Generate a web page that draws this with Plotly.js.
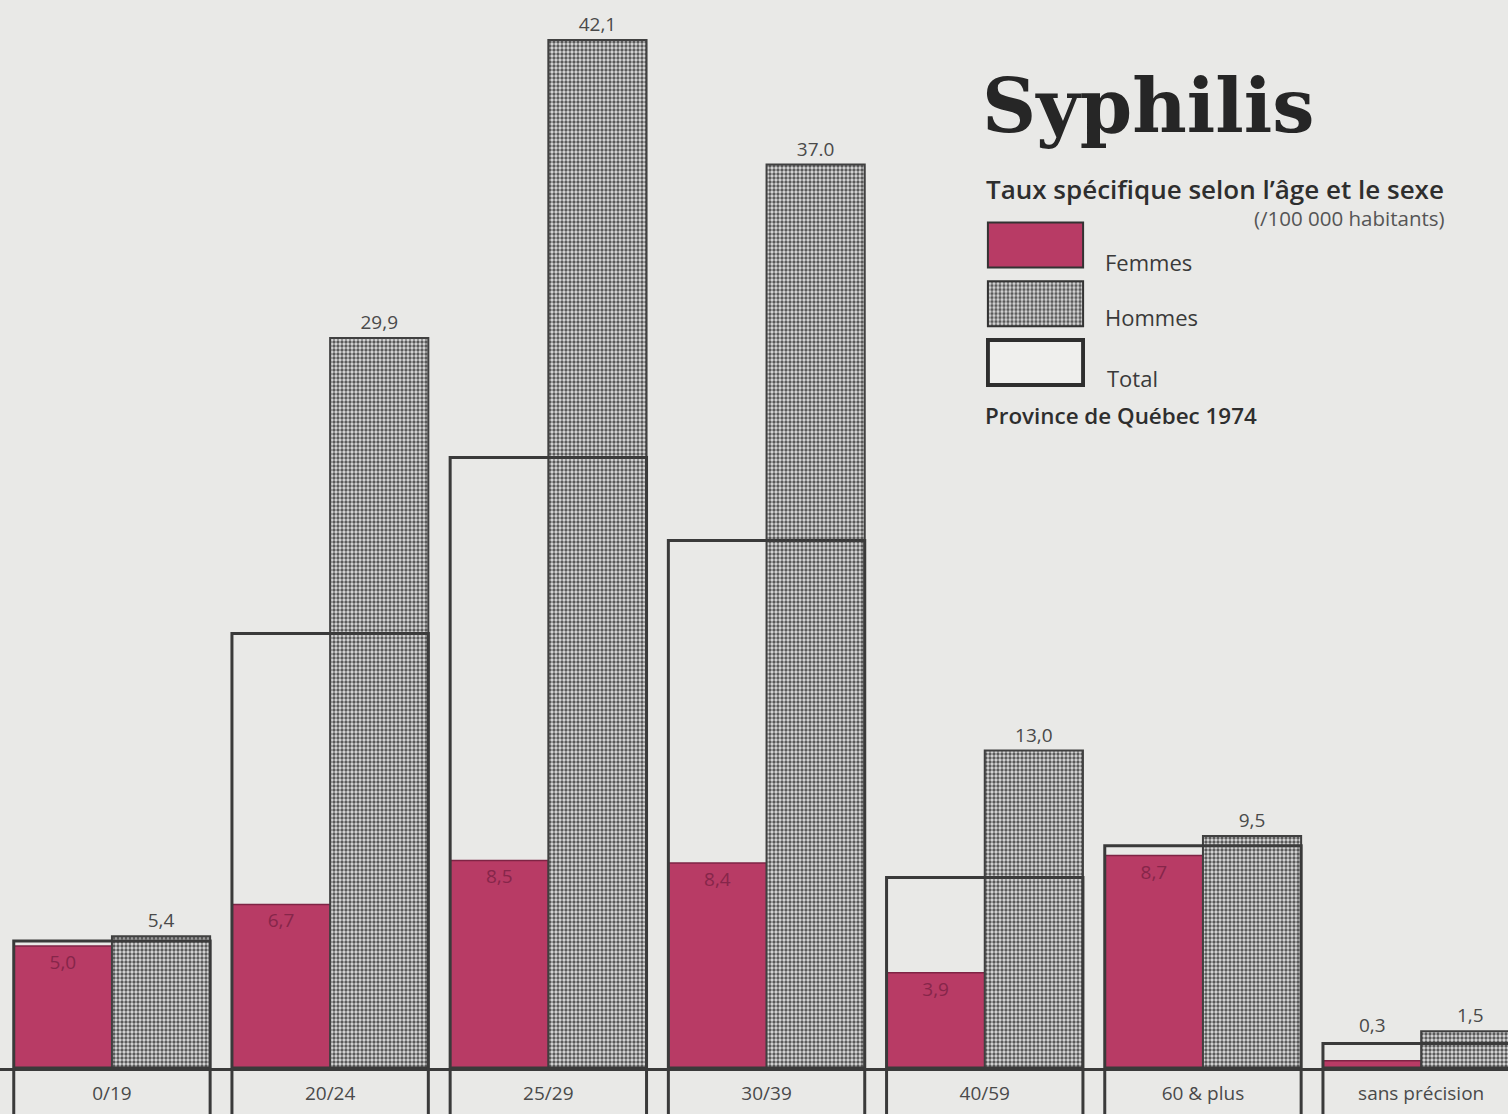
<!DOCTYPE html>
<html>
<head>
<meta charset="utf-8">
<script src="https://cdn.plot.ly/plotly-3.0.1.min.js"></script>
<style>
  html, body { margin: 0; padding: 0; background: #e9e9e7; }
  #chart { width: 1508px; height: 1114px; }
</style>
</head>
<body>
<div id="chart"></div>
<script>
// ---- Data ----
const categories = ['0/19', '20/24', '25/29', '30/39', '40/59', '60 & plus', 'sans précision'];
const femmes = [5.0, 6.7, 8.5, 8.4, 3.9, 8.7, 0.3];
const hommes = [5.4, 29.9, 42.1, 37.0, 13.0, 9.5, 1.5];
const total  = [5.2, 17.8, 25.0, 21.6, 7.8, 9.1, 1.0];   // estimated (not labelled)
const femmesText = ['5,0', '6,7', '8,5', '8,4', '3,9', '8,7', '0,3'];
const hommesText = ['5,4', '29,9', '42,1', '37.0', '13,0', '9,5', '1,5'];
const seriesNames = ['Femmes', 'Hommes', 'Total'];

// ---- Styles ----
const BG = '#e9e9e7';
const CRIMSON = '#b83b65';
const DARK = '#3a3a3a';
const TEXT = '#4a4a4a';
const FONT = 'Open Sans, Liberation Sans, Arial, sans-serif';
const HALF = 0.45;

const hommesPattern = { shape: '.', bgcolor: '#dcdcdc', fgcolor: '#5a5a5a', size: 4, solidity: 0.55 };

// position of labels that don't fit inside the bar
const femmesPos = femmes.map(v => v < 1 ? 'none' : 'inside');

const traces = [
  {
    type: 'bar', name: 'Femmes', x: categories, y: femmes,
    offset: -HALF, width: HALF,
    marker: { color: CRIMSON, line: { color: '#7e2445', width: 1.5 } },
    text: femmesText, textposition: femmesPos, insidetextanchor: 'end',
    textfont: { family: FONT, size: 19, color: '#86264a' },
    hoverinfo: 'x+y+name', showlegend: false
  },
  {
    type: 'bar', name: 'Hommes', x: categories, y: hommes,
    offset: 0, width: HALF,
    marker: { color: '#dcdcdc', pattern: hommesPattern, line: { color: '#404040', width: 2 } },
    text: hommesText, textposition: 'outside', cliponaxis: false,
    textfont: { family: FONT, size: 19, color: TEXT },
    hoverinfo: 'x+y+name', showlegend: false
  },
  {
    type: 'bar', name: 'Total', x: categories, y: total,
    offset: -HALF, width: 2 * HALF,
    marker: { color: 'rgba(0,0,0,0)', line: { color: DARK, width: 3 } },
    hoverinfo: 'x+y+name', showlegend: false
  },
  // legend swatches (mini subplot)
  {
    type: 'bar', orientation: 'h', xaxis: 'x2', yaxis: 'y2',
    y: [seriesNames[0]], x: [1], marker: { color: CRIMSON, line: { color: '#333', width: 2 } },
    hoverinfo: 'skip', showlegend: false
  },
  {
    type: 'bar', orientation: 'h', xaxis: 'x2', yaxis: 'y2',
    y: [seriesNames[1]], x: [1], marker: { color: '#dcdcdc', pattern: hommesPattern, line: { color: '#333', width: 2 } },
    hoverinfo: 'skip', showlegend: false
  },
  {
    type: 'bar', orientation: 'h', xaxis: 'x2', yaxis: 'y2',
    y: [seriesNames[2]], x: [1], marker: { color: '#efefed', line: { color: '#2e2e2e', width: 4 } },
    hoverinfo: 'skip', showlegend: false
  }
];

// label-box vertical lines below the baseline
const shapes = [];
categories.forEach((c, i) => {
  [i - HALF, i + HALF].forEach(xv => {
    shapes.push({ type: 'line', xref: 'x', yref: 'paper', x0: xv, x1: xv, y0: 0, y1: -0.06,
      line: { color: DARK, width: 3 } });
  });
});

const W = 1508, PH = 1068;
const px = X => X / W;
const py = Y => (PH - Y) / PH;

const annotations = [
  { text: 'Syphilis', xref: 'paper', yref: 'paper', x: px(980), y: py(106), xanchor: 'left', yanchor: 'middle',
    showarrow: false, font: { family: 'DejaVu Serif, Liberation Serif, serif', size: 75, color: '#262626', weight: 'bold' } },
  { text: 'Taux spécifique selon l’âge et le sexe', xref: 'paper', yref: 'paper', x: px(984), y: py(189),
    xanchor: 'left', yanchor: 'middle', showarrow: false, font: { family: FONT, size: 26, color: '#2e2e2e', weight: 600 } },
  { text: '(/100 000 habitants)', xref: 'paper', yref: 'paper', x: px(1447), y: py(218),
    xanchor: 'right', yanchor: 'middle', showarrow: false, font: { family: FONT, size: 20.5, color: '#555' } },
  { text: 'Femmes', xref: 'paper', yref: 'paper', x: px(1103), y: py(262), xanchor: 'left', yanchor: 'middle',
    showarrow: false, font: { family: FONT, size: 22, color: '#3a3a3a' } },
  { text: 'Hommes', xref: 'paper', yref: 'paper', x: px(1103), y: py(317), xanchor: 'left', yanchor: 'middle',
    showarrow: false, font: { family: FONT, size: 22, color: '#3a3a3a' } },
  { text: 'Total', xref: 'paper', yref: 'paper', x: px(1105), y: py(378), xanchor: 'left', yanchor: 'middle',
    showarrow: false, font: { family: FONT, size: 22, color: '#3a3a3a' } },
  { text: 'Province de Québec 1974', xref: 'paper', yref: 'paper', x: px(983), y: py(415), xanchor: 'left', yanchor: 'middle',
    showarrow: false, font: { family: FONT, size: 22.4, color: '#2e2e2e', weight: 600 } }
];
// femmes labels that do not fit in their bar: placed above the total outline
femmes.forEach((v, i) => {
  if (femmesPos[i] === 'none') {
    annotations.push({ text: femmesText[i], xref: 'x', yref: 'y', x: i - HALF / 2, y: total[i],
      xanchor: 'center', yanchor: 'bottom', yshift: 4, showarrow: false,
      font: { family: FONT, size: 19, color: TEXT } });
  }
});

const layout = {
  width: 1508, height: 1114,
  margin: { l: 0, r: 0, t: 0, b: 46, pad: 0 },
  paper_bgcolor: BG, plot_bgcolor: BG,
  barmode: 'overlay',
  showlegend: false,
  xaxis: {
    type: 'category', range: [-0.513, 6.398], showgrid: false, zeroline: false,
    showline: true, linecolor: DARK, linewidth: 3, ticks: '', ticklabelstandoff: 6,
    tickfont: { family: FONT, size: 19, color: TEXT }, fixedrange: true
  },
  yaxis: { range: [0, 43.74], visible: false, showgrid: false, zeroline: false, fixedrange: true },
  xaxis2: { domain: [px(986), px(1085)], anchor: 'y2', range: [-0.02, 1.02], visible: false, fixedrange: true },
  yaxis2: { domain: [py(391.9), py(215.6)], anchor: 'x2', type: 'category', autorange: 'reversed',
    visible: false, fixedrange: true },
  bargap: 0.234,
  shapes: shapes,
  annotations: annotations
};

Plotly.newPlot('chart', traces, layout, { displayModeBar: false, staticPlot: true });
</script>
</body>
</html>
